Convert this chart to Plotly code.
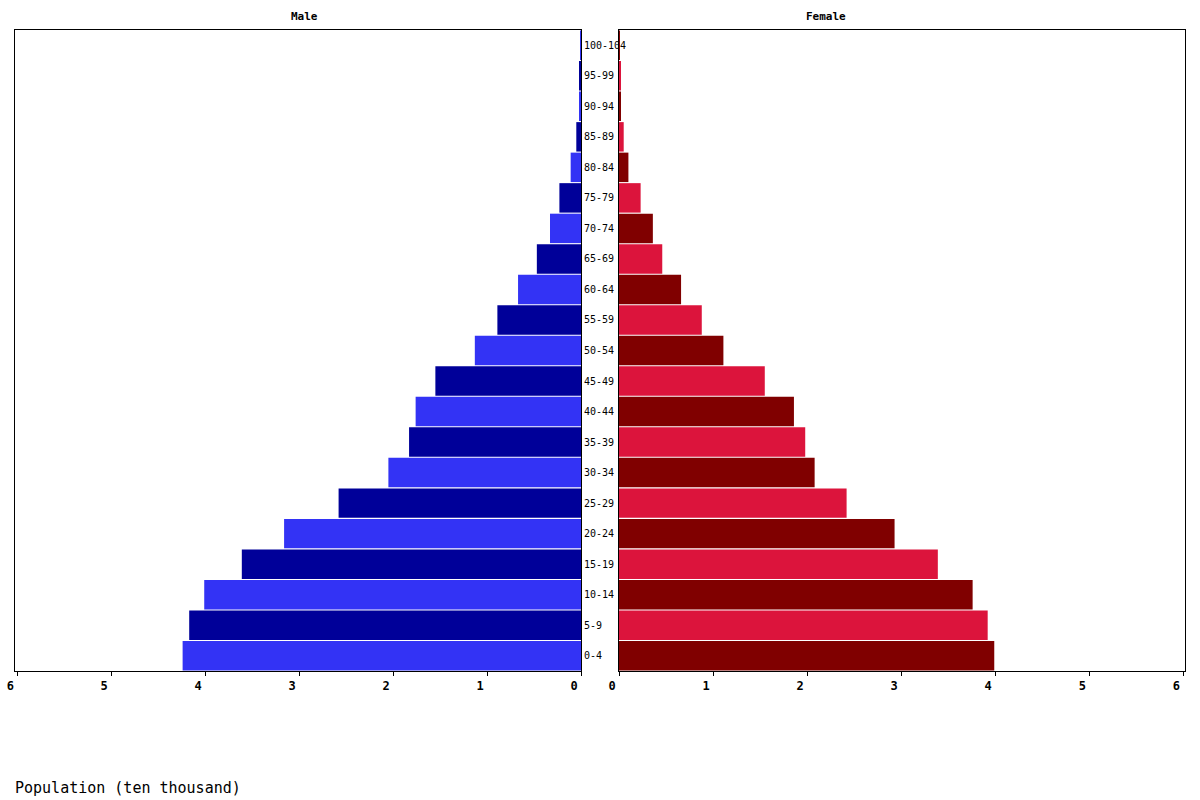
import plotly.graph_objects as go

age_groups = ["0-4", "5-9", "10-14", "15-19", "20-24", "25-29", "30-34", "35-39",
              "40-44", "45-49", "50-54", "55-59", "60-64", "65-69", "70-74", "75-79",
              "80-84", "85-89", "90-94", "95-99", "100-104"]
male = [4.24, 4.17, 4.01, 3.61, 3.16, 2.58, 2.05, 1.83, 1.76, 1.55, 1.13, 0.89,
        0.67, 0.47, 0.33, 0.23, 0.11, 0.05, 0.018, 0.018, 0.008]
female = [3.99, 3.92, 3.76, 3.39, 2.93, 2.42, 2.08, 1.98, 1.86, 1.55, 1.11, 0.88,
          0.66, 0.46, 0.36, 0.23, 0.10, 0.05, 0.014, 0.014, 0.01]
x_ticks = [0, 1, 2, 3, 4, 5, 6]

male_colors = ["#3333F5" if i % 2 == 0 else "#000099" for i in range(len(age_groups))]
female_colors = ["#800000" if i % 2 == 0 else "#DC143C" for i in range(len(age_groups))]

H = 800
W = 1200
y_bottom = (H - 671) / H
y_top = (H - 30) / H

fig = go.Figure()
fig.add_trace(go.Bar(y=age_groups, x=male, orientation="h", marker=dict(color=male_colors, line=dict(width=0)),
                     xaxis="x", yaxis="y", showlegend=False, hoverinfo="skip"))
fig.add_trace(go.Bar(y=age_groups, x=female, orientation="h", marker=dict(color=female_colors, line=dict(width=0)),
                     xaxis="x2", yaxis="y2", showlegend=False, hoverinfo="skip"))

tickfont = dict(family="DejaVu Sans Mono", size=12, color="black", weight="bold")
common_x = dict(showline=True, linecolor="black", linewidth=1, mirror=True, ticks="outside", ticklen=4,
                tickcolor="black", tickvals=x_ticks, ticktext=[str(v) for v in x_ticks], tickfont=tickfont,
                showgrid=False, zeroline=False, fixedrange=True, automargin=False)

fig.update_layout(
    width=W, height=H,
    margin=dict(l=0, r=0, t=0, b=0, autoexpand=False),
    paper_bgcolor="white", plot_bgcolor="white",
    bargap=0.035,
    xaxis=dict(domain=[15 / W, 581 / W], range=[6.024, 0], anchor="y", ticklabelshift=7, **common_x),
    xaxis2=dict(domain=[619 / W, 1185 / W], range=[0, 6.018], anchor="y2", ticklabelshift=-7, **common_x),
    yaxis=dict(domain=[y_bottom, y_top], anchor="x", side="right", showline=True, linecolor="black",
               linewidth=1, mirror=True, ticks="", showgrid=False, zeroline=False, automargin=False,
               categoryorder="array", categoryarray=age_groups, range=[-0.5, 20.5],
               tickfont=dict(family="DejaVu Sans Mono", size=10, color="black")),
    yaxis2=dict(domain=[y_bottom, y_top], anchor="x2", showline=True, linecolor="black", linewidth=1,
                mirror=True, ticks="", showgrid=False, zeroline=False, showticklabels=False, automargin=False,
                categoryorder="array", categoryarray=age_groups, range=[-0.5, 20.5]),
    annotations=[
        dict(text="Male", x=304 / W, y=(H - 17) / H, xref="paper", yref="paper", showarrow=False,
             xanchor="center", yanchor="middle",
             font=dict(family="DejaVu Sans Mono", size=11, color="black", weight="bold")),
        dict(text="Female", x=826 / W, y=(H - 17) / H, xref="paper", yref="paper", showarrow=False,
             xanchor="center", yanchor="middle",
             font=dict(family="DejaVu Sans Mono", size=11, color="black", weight="bold")),
        dict(text="Population (ten thousand)", x=13 / W, y=(H - 788) / H, xref="paper", yref="paper",
             xanchor="left", yanchor="middle", showarrow=False,
             font=dict(family="DejaVu Sans Mono", size=15, color="black")),
    ],
)

fig.write_html("out.html")
